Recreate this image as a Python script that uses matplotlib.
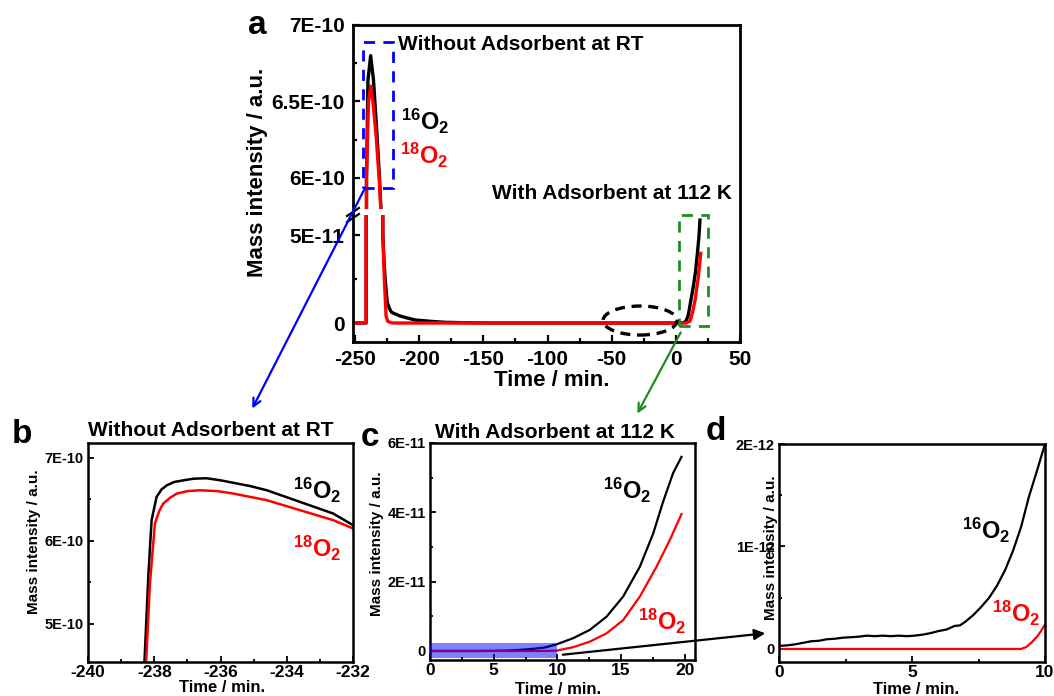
import matplotlib
matplotlib.use('Agg')
import matplotlib.pyplot as plt
from matplotlib.patches import Rectangle, Ellipse, FancyArrowPatch
from matplotlib.ticker import FixedLocator, FixedFormatter, NullFormatter
from matplotlib.lines import Line2D

plt.rcParams['font.family'] = ['Liberation Sans', 'DejaVu Sans']
plt.rcParams['font.weight'] = 'bold'
plt.rcParams['mathtext.fontset'] = 'custom'
plt.rcParams['mathtext.rm'] = 'Liberation Sans:bold'
plt.rcParams['mathtext.bf'] = 'Liberation Sans:bold'
plt.rcParams['mathtext.it'] = 'Liberation Sans:bold'
plt.rcParams['mathtext.default'] = 'rm'

# ---------------- data ----------------
# panel a (full run)
a_t16 = [-250, -241.3, -241.0, -239.9, -237.8, -235.6, -233.2, -230.9, -229.5,
         -228.3, -227.3, -226.5, -225.6, -224.8, -223.0, -221.4, -218.8, -215.0,
         -208.5, -203.0, -190.0, -180.0, -160.0, -140.0, -50.0, 0.0, 6.0, 7.9,
         9.7, 11.5, 13.6, 15.3, 16.8, 18.0, 18.8]
a_y16 = [0, 0, 6.0e-10, 6.64e-10, 6.80e-10, 6.64e-10, 6.33e-10, 6.0e-10, 5.75e-10,
         5.0e-11, 3.4e-11, 2.5e-11, 1.7e-11, 1.15e-11, 8.0e-12, 6.0e-12, 5.2e-12, 4.0e-12,
         2.7e-12, 1.7e-12, 0.9e-12, 0.4e-12, 0.1e-12, 0.0, 0.0, 0.0, 0.2e-12, 1.0e-12,
         4.5e-12, 1.2e-11, 2.06e-11, 2.9e-11, 3.96e-11, 4.9e-11, 5.85e-11]
a_t18 = [-250, -241.4, -241.1, -239.5, -237.8, -236.0, -233.5, -231.2, -229.6,
         -228.3, -227.2, -226.5, -225.8, -224.5, -222.0, -220.0, 0.0, 8.0, 11.0,
         13.0, 15.0, 17.5, 19.4]
a_y18 = [0, 0, 6.0e-10, 6.50e-10, 6.60e-10, 6.50e-10, 6.27e-10, 6.0e-10, 5.75e-10,
         5.0e-11, 2.6e-11, 1.5e-11, 4.0e-12, 1.0e-12, 0.2e-12, 0.0, 0.0, 0.0, 1.0e-12,
         6.0e-12, 1.3e-11, 2.6e-11, 3.96e-11]

# panel b (zoom on the first peak)
b_t16 = [-238.30, -238.18, -238.08, -237.93, -237.78, -237.62, -237.40, -237.12, -236.80,
         -236.42, -236.00, -235.61, -235.10, -234.60, -234.10, -233.60, -233.10, -232.60, -232.0]
b_y16 = [4.50e-10, 5.57e-10, 6.25e-10, 6.53e-10, 6.62e-10, 6.67e-10, 6.71e-10, 6.73e-10, 6.75e-10,
         6.755e-10, 6.73e-10, 6.70e-10, 6.66e-10, 6.61e-10, 6.54e-10, 6.47e-10, 6.40e-10, 6.33e-10, 6.19e-10]
b_t18 = [-238.25, -238.13, -237.98, -237.85, -237.73, -237.52, -237.32, -237.00, -236.62,
         -236.10, -235.61, -235.10, -234.60, -234.10, -233.60, -233.10, -232.60, -232.0]
b_y18 = [4.50e-10, 5.49e-10, 6.21e-10, 6.36e-10, 6.45e-10, 6.52e-10, 6.57e-10, 6.60e-10, 6.61e-10,
         6.60e-10, 6.57e-10, 6.53e-10, 6.49e-10, 6.43e-10, 6.37e-10, 6.31e-10, 6.25e-10, 6.15e-10]

# panel c (with adsorbent, 0-20 min)
c_t16 = [0, 2, 4, 6, 7, 8, 9, 9.93, 11.24, 12.55, 13.86, 15.16, 16.47, 17.52, 18.3, 19.08, 19.74]
c_y16 = [0, 0, 0, 0.1e-12, 0.3e-12, 0.6e-12, 1.0e-12, 1.9e-12, 3.7e-12, 6.1e-12, 9.9e-12,
         1.57e-11, 2.43e-11, 3.39e-11, 4.31e-11, 5.13e-11, 5.6e-11]
c_t18 = [0, 9.0, 9.93, 11.24, 12.55, 13.86, 15.16, 16.47, 17.78, 18.82, 19.74]
c_y18 = [0, 0, 0.1e-12, 1.1e-12, 2.7e-12, 5.1e-12, 8.9e-12, 1.57e-11, 2.43e-11, 3.2e-11, 3.95e-11]

# panel d (with adsorbent, 0-10 min)
d_t16 = [0.0, 0.3, 0.6, 0.9, 1.2, 1.5, 1.8, 2.1, 2.4, 2.7, 3.0, 3.3, 3.6, 3.9, 4.2, 4.5,
         4.8, 5.1, 5.4, 5.7, 6.0, 6.3, 6.6, 6.8, 7.0, 7.3, 7.6, 7.9, 8.2, 8.5, 8.8, 9.1,
         9.4, 9.7, 10.0]
d_y16 = [0.03e-12, 0.035e-12, 0.045e-12, 0.06e-12, 0.075e-12, 0.08e-12, 0.095e-12, 0.10e-12,
         0.11e-12, 0.115e-12, 0.12e-12, 0.13e-12, 0.125e-12, 0.13e-12, 0.125e-12, 0.13e-12,
         0.125e-12, 0.13e-12, 0.14e-12, 0.155e-12, 0.175e-12, 0.19e-12, 0.225e-12, 0.23e-12,
         0.265e-12, 0.33e-12, 0.41e-12, 0.50e-12, 0.62e-12, 0.77e-12, 0.96e-12, 1.19e-12,
         1.49e-12, 1.74e-12, 2.0e-12]
d_t18 = [0.0, 9.1, 9.3, 9.5, 9.7, 9.85, 10.0]
d_y18 = [0, 0, 0.02e-12, 0.065e-12, 0.12e-12, 0.175e-12, 0.24e-12]

# tick labels
a_xticks = [-250, -200, -150, -100, -50, 0, 50]
a_top_yticks = [6e-10, 6.5e-10, 7e-10]
a_top_ylabels = ['6E-10', '6.5E-10', '7E-10']
a_bot_yticks = [0, 5e-11]
a_bot_ylabels = ['0', '5E-11']
b_xticks = [-240, -238, -236, -234, -232]
b_yticks = [5e-10, 6e-10, 7e-10]
b_ylabels = ['5E-10', '6E-10', '7E-10']
c_xticks = [0, 5, 10, 15, 20]
c_yticks = [0, 2e-11, 4e-11, 6e-11]
c_ylabels = ['0', '2E-11', '4E-11', '6E-11']
d_xticks = [0, 5, 10]
d_yticks = [0, 1e-12, 2e-12]
d_ylabels = ['0', '1E-12', '2E-12']

LBL16 = r'$^{16}\mathrm{O}_{2}$'
LBL18 = r'$^{18}\mathrm{O}_{2}$'
YLAB = 'Mass intensity / a.u.'
XLAB = 'Time / min.'
RED = '#ff0000'
BLUE = '#0000ff'
GREEN = '#1e8c1e'

# ---------------- figure ----------------
W, H = 1054, 696
fig = plt.figure(figsize=(W / 100, H / 100), dpi=100)


def box(l, t, r, b):
    return [l / W, 1 - b / H, (r - l) / W, (b - t) / H]


def P(x, y):
    return (x / W, 1 - y / H)


def set_ticks(ax, ticks, labels, axis, minor=None):
    a = ax.xaxis if axis == 'x' else ax.yaxis
    a.set_major_locator(FixedLocator(ticks))
    a.set_major_formatter(FixedFormatter(labels))
    if minor is not None:
        a.set_minor_locator(FixedLocator(minor))
        a.set_minor_formatter(NullFormatter())


# ----- panel a -----
XL = (-251.56, 50)
ax_top = fig.add_axes(box(353, 25, 740, 209))
ax_bot = fig.add_axes(box(353, 215, 740, 342))
frame = fig.add_axes(box(353, 25, 740, 342), zorder=5)
frame.set_facecolor('none')
frame.set_xticks([])
frame.set_yticks([])
for s in frame.spines.values():
    s.set_linewidth(2.0)

for ax in (ax_top, ax_bot):
    ax.set_facecolor('none')
    for s in ax.spines.values():
        s.set_visible(False)
    ax.plot(a_t16, a_y16, color='black', lw=2.4, solid_joinstyle='round')
    ax.plot(a_t18, a_y18, color=RED, lw=2.4, solid_joinstyle='round')
    ax.set_xlim(*XL)
    ax.tick_params(which='both', direction='in', width=1.6, labelsize=15, pad=6)
    ax.tick_params(which='major', length=5)
    ax.tick_params(which='minor', length=3)

ax_top.set_ylim(5.797e-10, 7.0e-10)
set_ticks(ax_top, a_top_yticks, a_top_ylabels, 'y', [6.25e-10, 6.75e-10])
ax_top.tick_params(axis='x', which='both', bottom=False, labelbottom=False)

ax_bot.set_ylim(-1.08e-11, 6.14e-11)
set_ticks(ax_bot, a_bot_yticks, a_bot_ylabels, 'y', [2.5e-11])
set_ticks(ax_bot, a_xticks, [str(v) for v in a_xticks], 'x',
          [-225, -175, -125, -75, -25, 25])

# decorations panel a
ax_top.add_patch(Rectangle((-243.8, 5.935e-10), 23.4, 0.954e-10, fill=False,
                           edgecolor=BLUE, lw=2.0, ls=(0, (4, 3)), clip_on=False, zorder=4))
ax_bot.add_patch(Rectangle((2.5, -1.7e-12), 22.8, 6.31e-11, fill=False,
                           edgecolor=GREEN, lw=2.0, ls=(0, (4, 3)), clip_on=False, zorder=4))
ax_bot.add_patch(Ellipse((-27.9, 1.4e-12), 57.7, 1.65e-11, fill=False,
                         edgecolor='black', lw=2.4, ls=(0, (3, 2)), clip_on=False, zorder=4))

fig.text(*P(398, 45), 'Without Adsorbent at RT', fontsize=15, fontweight='bold', va='center', ha='left')
fig.text(*P(492, 193), 'With Adsorbent at 112 K', fontsize=15, fontweight='bold', va='center', ha='left')
fig.text(*P(401, 121), LBL16, fontsize=17, color='black', va='center', ha='left')
fig.text(*P(400, 155), LBL18, fontsize=17, color=RED, va='center', ha='left')
fig.text(*P(258, 172), YLAB, fontsize=16, fontweight='bold', rotation=90, va='center', ha='center')
fig.text(*P(552, 380), XLAB, fontsize=16, fontweight='bold', va='center', ha='center')
fig.text(*P(257, 25), 'a', fontsize=24, fontweight='bold', va='center', ha='center')

# axis break marks
for dy in (0, 6):
    fig.add_artist(Line2D([347 / W, 359 / W], [1 - (216 + dy) / H, 1 - (208 + dy) / H],
                          color='black', lw=1.6, transform=fig.transFigure, zorder=6))

# ----- panel b -----
axb = fig.add_axes(box(88, 443, 353, 662))
axb.plot(b_t16, b_y16, color='black', lw=1.8)
axb.plot(b_t18, b_y18, color=RED, lw=1.8)
axb.set_xlim(-240, -232)
axb.set_ylim(4.54e-10, 7.18e-10)
set_ticks(axb, b_xticks, [str(v) for v in b_xticks], 'x', [-239, -237, -235, -233])
set_ticks(axb, b_yticks, b_ylabels, 'y', [5.5e-10, 6.5e-10])
fig.text(*P(211, 430), 'Without Adsorbent at RT', fontsize=15, fontweight='bold', va='center', ha='center')
fig.text(*P(293, 490), LBL16, fontsize=17, color='black', va='center', ha='left')
fig.text(*P(293, 548), LBL18, fontsize=17, color=RED, va='center', ha='left')
fig.text(*P(34, 542), YLAB, fontsize=11, fontweight='bold', rotation=90, va='center', ha='center')
fig.text(*P(222, 688), XLAB, fontsize=12, fontweight='bold', va='center', ha='center')
fig.text(*P(22, 434), 'b', fontsize=24, fontweight='bold', va='center', ha='center')

# ----- panel c -----
axc = fig.add_axes(box(430, 443, 695, 660))
axc.plot(c_t16, c_y16, color='black', lw=1.6)
axc.plot(c_t18, c_y18, color=RED, lw=1.6)
axc.set_xlim(0, 20.8)
axc.set_ylim(-2.6e-12, 6.0e-11)
set_ticks(axc, c_xticks, [str(v) for v in c_xticks], 'x', [2.5, 7.5, 12.5, 17.5])
set_ticks(axc, c_yticks, c_ylabels, 'y', [1e-11, 3e-11, 5e-11])
axc.add_patch(Rectangle((0, -2.1e-12), 10, 4.5e-12, facecolor=BLUE, alpha=0.5,
                        edgecolor='none', zorder=3))
fig.text(*P(555, 432), 'With Adsorbent at 112 K', fontsize=15, fontweight='bold', va='center', ha='center')
fig.text(*P(603, 490), LBL16, fontsize=17, color='black', va='center', ha='left')
fig.text(*P(638, 621), LBL18, fontsize=17, color=RED, va='center', ha='left')
fig.text(*P(377, 544), YLAB, fontsize=11, fontweight='bold', rotation=90, va='center', ha='center')
fig.text(*P(558, 689), XLAB, fontsize=12, fontweight='bold', va='center', ha='center')
fig.text(*P(370, 438), 'c', fontsize=24, fontweight='bold', va='center', ha='center')

# ----- panel d -----
axd = fig.add_axes(box(779, 444, 1045, 662))
axd.plot(d_t16, d_y16, color='black', lw=1.6)
axd.plot(d_t18, d_y18, color=RED, lw=1.6)
axd.set_xlim(0, 10)
axd.set_ylim(-1.27e-13, 2.0e-12)
set_ticks(axd, d_xticks, [str(v) for v in d_xticks], 'x', [2.5, 7.5])
set_ticks(axd, d_yticks, d_ylabels, 'y', [0.5e-12, 1.5e-12])
fig.text(*P(962, 530), LBL16, fontsize=17, color='black', va='center', ha='left')
fig.text(*P(992, 613), LBL18, fontsize=17, color=RED, va='center', ha='left')
fig.text(*P(771, 548), YLAB, fontsize=11, fontweight='bold', rotation=90, va='center', ha='center')
fig.text(*P(916, 689), XLAB, fontsize=12, fontweight='bold', va='center', ha='center')
fig.text(*P(716, 432), 'd', fontsize=24, fontweight='bold', va='center', ha='center')

for ax in (axb, axc, axd):
    for s in ax.spines.values():
        s.set_linewidth(1.8)
    ax.tick_params(which='both', direction='in', width=1.3)
    ax.tick_params(which='major', length=4)
    ax.tick_params(which='minor', length=2)
    ax.tick_params(axis='x', labelsize=12.5, pad=2)
    ax.tick_params(axis='y', labelsize=10.5, pad=3)

# ----- connecting arrows -----
fig.add_artist(FancyArrowPatch(P(365, 188), P(251, 411), transform=fig.transFigure,
                               arrowstyle='->', mutation_scale=14, color=BLUE, lw=1.6, zorder=7))
fig.add_artist(FancyArrowPatch(P(682, 330), P(636, 416), transform=fig.transFigure,
                               arrowstyle='->', mutation_scale=14, color=GREEN, lw=1.6, zorder=7))
fig.add_artist(FancyArrowPatch(P(560, 655), P(768, 633), transform=fig.transFigure,
                               arrowstyle='-|>', mutation_scale=16, color='black', lw=1.6, zorder=7))

fig.savefig('out.png', dpi=100)
